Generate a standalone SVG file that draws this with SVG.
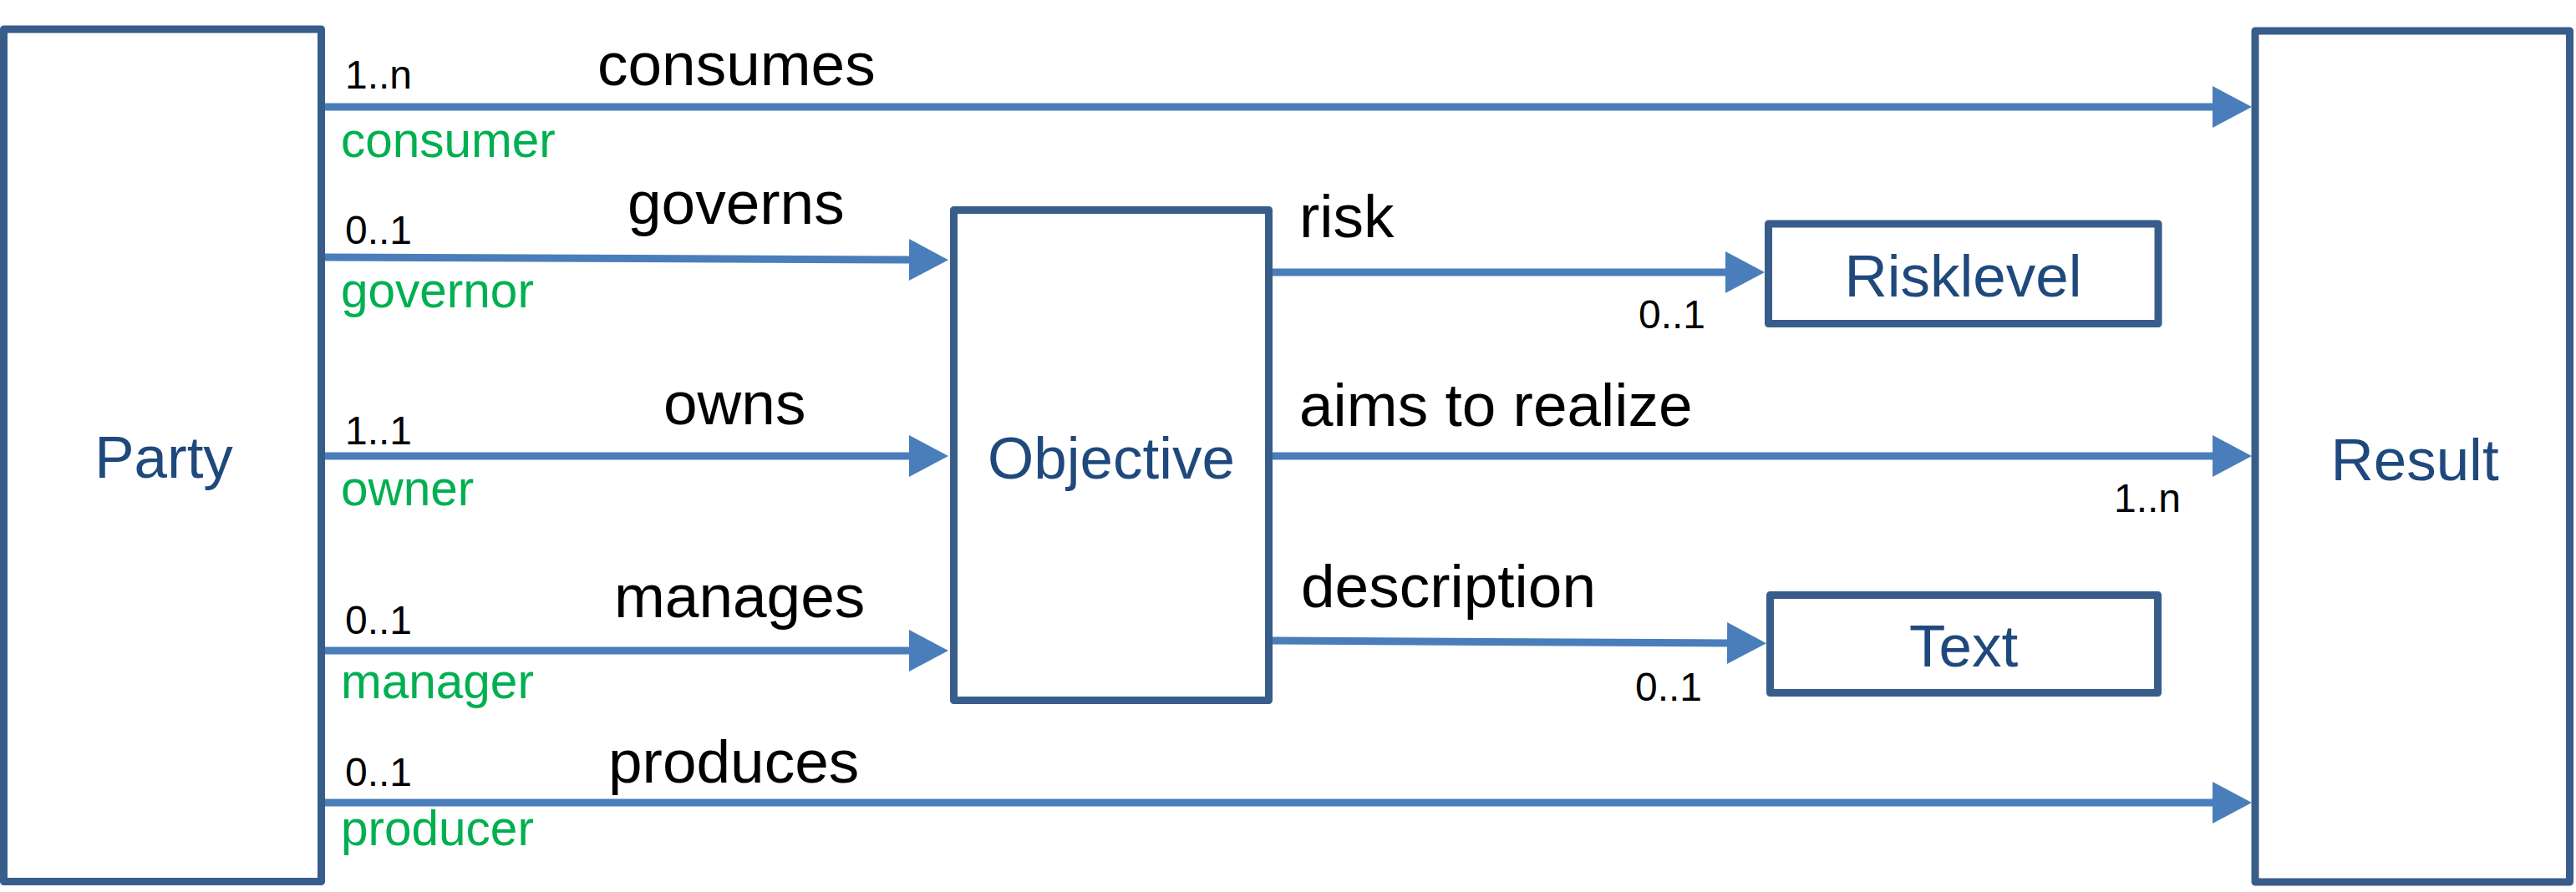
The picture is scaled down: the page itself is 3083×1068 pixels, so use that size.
<svg xmlns="http://www.w3.org/2000/svg" width="3083" height="1068" viewBox="0 0 3083 1068">
<style>
.box{fill:#ffffff;stroke:#385D8A;stroke-width:9;stroke-linejoin:round}
.ln{fill:none;stroke:#4A7EBB;stroke-width:9}
.nt{font-family:"Liberation Sans",Arial,sans-serif;font-size:71px;fill:#1F497D;text-anchor:middle}
.el{font-family:"Liberation Sans",Arial,sans-serif;font-size:73px;fill:#000000}
.rl{font-family:"Liberation Sans",Arial,sans-serif;font-size:58.5px;fill:#00B050}
.mu{font-family:"Liberation Sans",Arial,sans-serif;font-size:48px;fill:#000000}
</style>
<defs>
<marker id="ah" markerUnits="userSpaceOnUse" markerWidth="47" markerHeight="50" refX="0" refY="25" orient="auto" overflow="visible">
<path d="M0,0 L47,25 L0,50 Z" fill="#4A7EBB"/>
</marker>
</defs>
<g id="party"><rect class="box" x="4.5" y="35" width="380" height="1020.5"/><text class="nt" x="196" y="572">Party</text></g>
<g id="objective"><rect class="box" x="1141.5" y="251.5" width="377" height="587"/><text class="nt" x="1330" y="573">Objective</text></g>
<g id="risklevel"><rect class="box" x="2116.5" y="268" width="466.5" height="119.5"/><text class="nt" x="2349.5" y="355">Risklevel</text></g>
<g id="text"><rect class="box" x="2118.5" y="712.5" width="464" height="117"/><text class="nt" x="2350" y="798">Text</text></g>
<g id="result"><rect class="box" x="2699" y="37" width="376.5" height="1019"/><text class="nt" x="2890" y="575">Result</text></g>
<g id="connectors">
<line class="ln" x1="389" y1="128" x2="2648" y2="128" marker-end="url(#ah)"/>
<line class="ln" x1="389" y1="308" x2="1088" y2="311" marker-end="url(#ah)"/>
<line class="ln" x1="389" y1="546" x2="1088" y2="546" marker-end="url(#ah)"/>
<line class="ln" x1="389" y1="779" x2="1088" y2="779" marker-end="url(#ah)"/>
<line class="ln" x1="389" y1="961" x2="2648" y2="961" marker-end="url(#ah)"/>
<line class="ln" x1="1523" y1="326" x2="2065" y2="326" marker-end="url(#ah)"/>
<line class="ln" x1="1523" y1="546" x2="2648" y2="546" marker-end="url(#ah)"/>
<line class="ln" x1="1523" y1="767" x2="2067" y2="770" marker-end="url(#ah)"/>
<text class="el" x="715" y="102">consumes</text>
<text class="mu" x="413" y="106">1..n</text>
<text class="rl" x="408" y="188">consumer</text>
<text class="el" x="751" y="268">governs</text>
<text class="mu" x="413" y="292">0..1</text>
<text class="rl" x="408" y="368">governor</text>
<text class="el" x="794" y="508">owns</text>
<text class="mu" x="413" y="532">1..1</text>
<text class="rl" x="408" y="605">owner</text>
<text class="el" x="735" y="739">manages</text>
<text class="mu" x="413" y="759">0..1</text>
<text class="rl" x="408" y="836">manager</text>
<text class="el" x="728" y="937">produces</text>
<text class="mu" x="413" y="941">0..1</text>
<text class="rl" x="408" y="1012">producer</text>
<text class="el" x="1555" y="284">risk</text>
<text class="mu" x="1961" y="393">0..1</text>
<text class="el" x="1555" y="510">aims to realize</text>
<text class="mu" x="2530" y="613">1..n</text>
<text class="el" x="1557" y="727">description</text>
<text class="mu" x="1957" y="839">0..1</text>
</g>
</svg>
